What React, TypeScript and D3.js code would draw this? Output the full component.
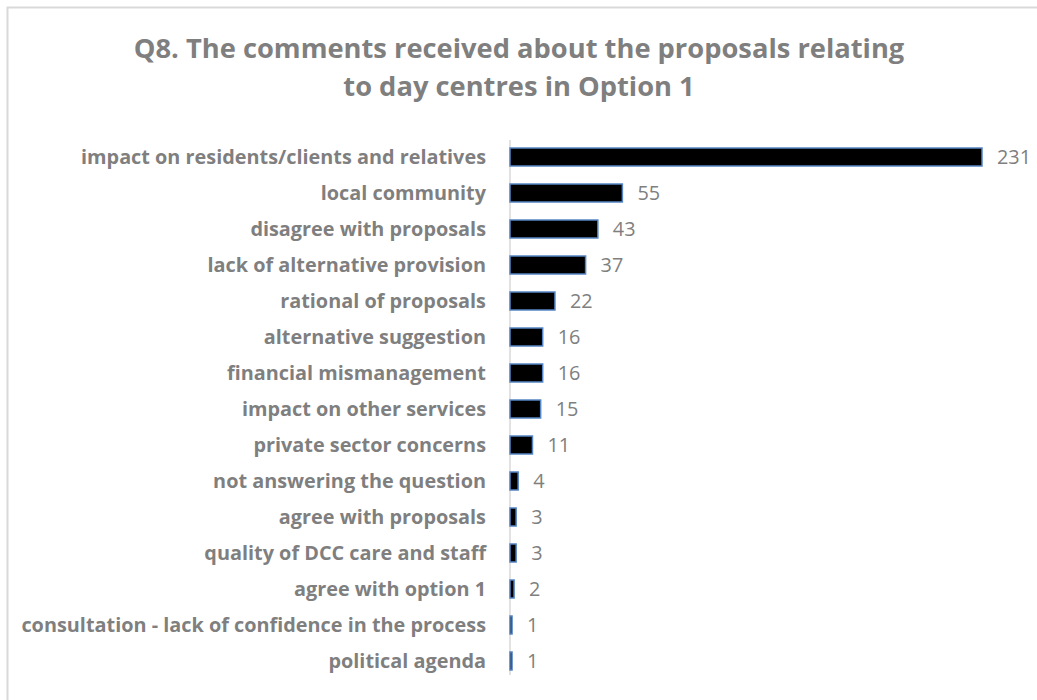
import React from "react";
import * as d3 from "d3";

const categories = [
  "impact on residents/clients and relatives",
  "local community",
  "disagree with proposals",
  "lack of alternative provision",
  "rational of proposals",
  "alternative suggestion",
  "financial mismanagement",
  "impact on other services",
  "private sector concerns",
  "not answering the question",
  "agree with proposals",
  "quality of DCC care and staff",
  "agree with option 1",
  "consultation - lack of confidence in the process",
  "political agenda",
];
const values = [231, 55, 43, 37, 22, 16, 16, 15, 11, 4, 3, 3, 2, 1, 1];
const titleLines = [
  "Q8. The comments received about the proposals relating",
  "to day centres in Option 1",
];

export default function App() {
  const W = 1037, H = 700;
  const x0 = 510, x1 = 982;
  const top = 139, bottom = 679;
  const x = d3.scaleLinear().domain([0, 231]).range([x0, x1]);
  const y = d3.scaleBand<string>().domain(categories).range([top, bottom]).paddingInner(0.5).paddingOuter(0.25);
  const font = "'Open Sans', sans-serif";
  const gray = "#7f7f7f";
  return (
    <svg width={W} height={H} style={{ position: "absolute", left: 0, top: 0, display: "block" }}>
      <rect x={0} y={0} width={W} height={H} fill="#fff" />
      <rect x={7.5} y={7.5} width={W + 10} height={H + 10} fill="none" stroke="#d9d9d9" strokeWidth={2} />
      {titleLines.map((t, i) => (
        <text key={i} x={519} y={58 + i * 38} textAnchor="middle" fontFamily={font} fontWeight="bold" fontSize={27.3} fill={gray}>
          {t}
        </text>
      ))}
      <line x1={x0} x2={x0} y1={top + 1} y2={bottom - 4} stroke="#d9d9d9" strokeWidth={1.5} />
      {categories.map((c, i) => {
        const yy = y(c)!;
        const bw = y.bandwidth();
        const cy = yy + bw / 2;
        return (
          <g key={c}>
            <rect x={x0} y={yy} width={x(values[i]) - x0} height={bw} fill="#000" stroke="#5585c4" strokeWidth={1.5} />
            <text x={486} y={cy} dy="0.35em" textAnchor="end" fontFamily={font} fontWeight="bold" fontSize={19.85} fill={gray}>
              {c}
            </text>
            <text x={x(values[i]) + 15} y={cy} dy="0.35em" textAnchor="start" fontFamily={font} fontSize={19.85} fill={gray}>
              {values[i]}
            </text>
          </g>
        );
      })}
    </svg>
  );
}
